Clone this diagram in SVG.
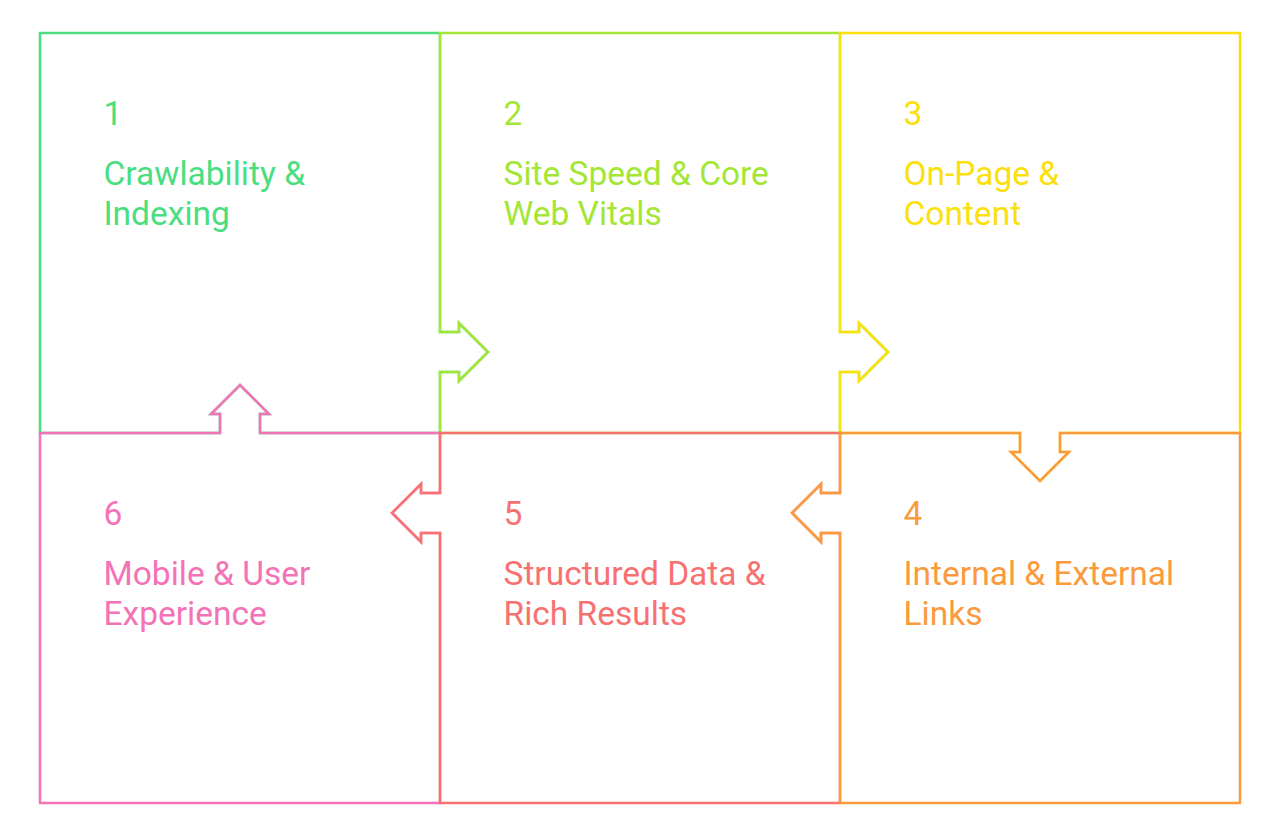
<svg xmlns="http://www.w3.org/2000/svg" width="1280" height="820" viewBox="0 0 1280 820">
<style>
.box{fill:none;stroke-width:2.5;stroke-linejoin:miter;stroke-miterlimit:10}
.t{font-family:Roboto,"Liberation Sans",sans-serif;font-size:33.5px;font-weight:400}
.c1{stroke:#4ade80}.f1{fill:#4ade80}
.c2{stroke:#a3e635}.f2{fill:#a3e635}
.c3{stroke:#fbe00c}.f3{fill:#fbe00c}
.c4{stroke:#fb9a3c}.f4{fill:#fb9a3c}
.c5{stroke:#f87171}.f5{fill:#f87171}
.c6{stroke:#f472b6}.f6{fill:#f472b6}
</style>
<rect width="1280" height="820" fill="#ffffff"/>
<g id="node1">
<path class="box c1" d="M40,33 H440 V332 H459 V323 L488,352 L459,381 V372 H440 V433 H260 V414 H269 L240,385 L211,414 H220 V433 H40 Z"/>
<text class="t f1" x="103.5" y="124.5">1</text>
<text class="t f1" x="103.5" y="184.5">Crawlability &amp;</text>
<text class="t f1" x="103.5" y="224.5">Indexing</text>
</g>
<g id="node2">
<path class="box c2" d="M440,33 H840 V332 H859 V323 L888,352 L859,381 V372 H840 V433 H440 V372 H459 V381 L488,352 L459,323 V332 H440 Z"/>
<text class="t f2" x="503.5" y="124.5">2</text>
<text class="t f2" x="503.5" y="184.5">Site Speed &amp; Core</text>
<text class="t f2" x="503.5" y="224.5">Web Vitals</text>
</g>
<g id="node3">
<path class="box c3" d="M840,33 H1240 V433 H1060 V452 H1069 L1040,481 L1011,452 H1020 V433 H840 V372 H859 V381 L888,352 L859,323 V332 H840 Z"/>
<text class="t f3" x="903.5" y="124.5">3</text>
<text class="t f3" x="903.5" y="184.5">On-Page &amp;</text>
<text class="t f3" x="903.5" y="224.5">Content</text>
</g>
<g id="node6">
<path class="box c6" d="M40,433 H220 V414 H211 L240,385 L269,414 H260 V433 H440 V493 H421 V484 L392,513 L421,542 V533 H440 V803 H40 Z"/>
<text class="t f6" x="103.5" y="524.5">6</text>
<text class="t f6" x="103.5" y="584.5">Mobile &amp; User</text>
<text class="t f6" x="103.5" y="624.5">Experience</text>
</g>
<g id="node5">
<path class="box c5" d="M440,433 H840 V493 H821 V484 L792,513 L821,542 V533 H840 V803 H440 V533 H421 V542 L392,513 L421,484 V493 H440 Z"/>
<text class="t f5" x="503.5" y="524.5">5</text>
<text class="t f5" x="503.5" y="584.5">Structured Data &amp;</text>
<text class="t f5" x="503.5" y="624.5">Rich Results</text>
</g>
<g id="node4">
<path class="box c4" d="M840,433 H1020 V452 H1011 L1040,481 L1069,452 H1060 V433 H1240 V803 H840 V533 H821 V542 L792,513 L821,484 V493 H840 Z"/>
<text class="t f4" x="903.5" y="524.5">4</text>
<text class="t f4" x="903.5" y="584.5">Internal &amp; External</text>
<text class="t f4" x="903.5" y="624.5">Links</text>
</g>
<g id="connectors"/>
</svg>
